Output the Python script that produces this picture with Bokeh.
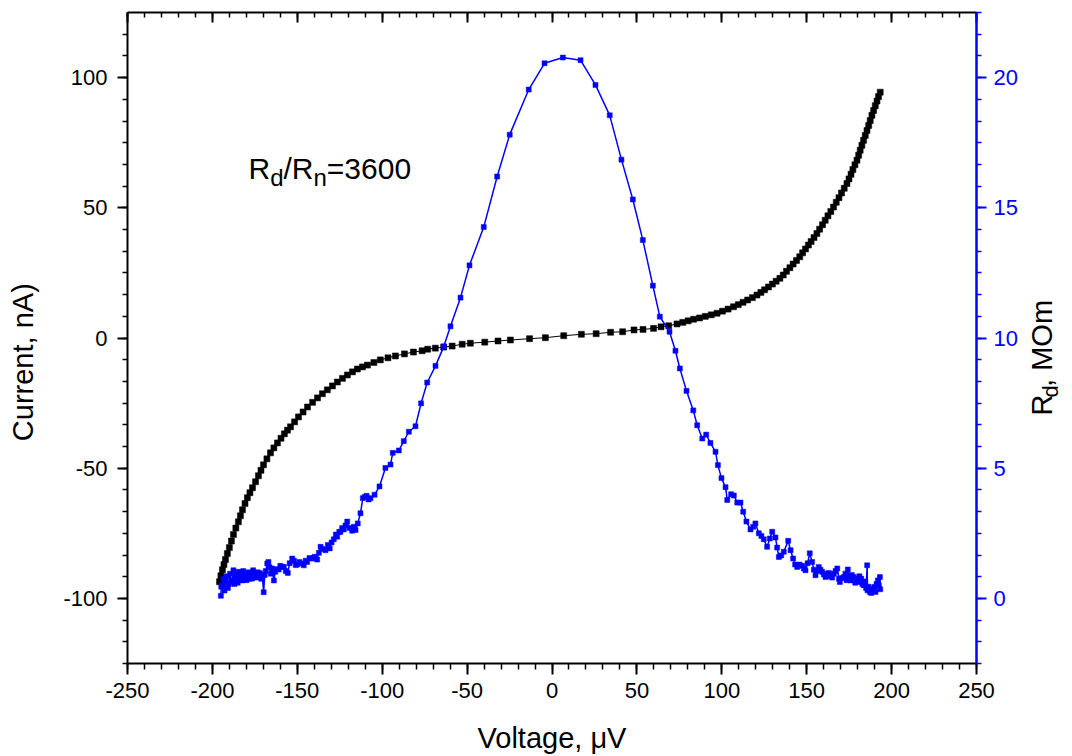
from bokeh.plotting import figure
from bokeh.layouts import row
from bokeh.models import LinearAxis, Range1d, FixedTicker, Label, CustomJSTickFormatter
from bokeh.embed import file_html
from bokeh.resources import INLINE

FONT = "Liberation Sans"
BLUE = "#0000FF"

# ---------------- data ----------------
iv_voltage = [
    -195.8, -195.0, -194.1, -193.2, -192.3, -191.2, -190.0, -188.8, -187.6, -186.2,
    -184.7, -183.5, -182.3, -180.8, -179.4, -177.9, -176.4, -174.6, -172.9, -171.4,
    -169.9, -167.9, -165.8, -163.8, -161.7, -159.6, -157.6, -155.8, -154.0, -151.6,
    -149.3, -146.6, -144.0, -141.0, -138.1, -135.2, -132.3, -129.3, -126.4, -123.4,
    -120.5, -117.5, -114.6, -111.6, -108.7, -104.9, -101.1, -96.6, -92.2, -86.9,
    -81.6, -76.5, -73.2, -68.7, -63.8, -58.8, -52.9, -48.1, -39.6, -31.8,
    -24.5, -13.2, -3.9, 6.9, 17.3, 26.0, 34.5, 41.6, 48.3, 53.6,
    59.8, 64.2, 68.7, 73.6, 77.0, 80.2, 83.4, 86.9, 90.3, 93.8,
    97.2, 100.4, 103.7, 106.9, 109.7, 112.5, 115.2, 118.0, 120.7, 123.0,
    125.2, 127.5, 129.8, 132.0, 134.2, 136.2, 138.1, 140.1, 142.0, 144.0,
    145.9, 147.6, 149.3, 151.0, 152.6, 154.3, 156.0, 157.6, 159.3, 160.9,
    162.5, 164.2, 165.8, 167.4, 169.0, 170.5, 172.1, 173.7, 174.9, 176.1,
    177.2, 178.4, 179.6, 180.6, 181.5, 182.5, 183.5, 184.5, 185.5, 186.5,
    187.4, 188.4, 189.4, 190.4, 191.4, 192.3, 193.3,
]
iv_current = [
    -93.6, -91.3, -89.0, -87.0, -85.1, -82.8, -80.5, -78.0, -75.5, -73.0,
    -70.6, -68.3, -66.0, -63.6, -61.3, -59.4, -57.5, -55.2, -52.9, -50.8,
    -48.7, -46.4, -44.1, -42.2, -40.3, -38.5, -36.8, -35.4, -34.1, -32.2,
    -30.3, -28.4, -26.5, -24.7, -23.0, -21.4, -19.9, -18.4, -16.9, -15.5,
    -14.2, -13.0, -11.9, -11.1, -10.4, -9.4, -8.4, -7.6, -6.9, -6.1,
    -5.4, -4.9, -4.3, -3.9, -3.5, -3.1, -2.4, -2.0, -1.6, -1.15,
    -0.77, -0.27, 0.12, 0.88, 1.42, 1.65, 2.2, 2.4, 3.1, 3.3,
    3.7, 4.3, 4.7, 5.4, 6.0, 6.6, 7.2, 7.7, 8.3, 8.9,
    9.5, 10.3, 11.1, 12.0, 12.8, 13.7, 14.6, 15.5, 16.5, 17.5,
    18.5, 19.6, 20.7, 21.8, 22.9, 24.2, 25.6, 27.0, 28.4, 29.8,
    31.2, 32.7, 34.2, 35.7, 37.1, 38.6, 40.1, 41.8, 43.5, 45.2,
    46.9, 48.6, 50.3, 52.1, 53.9, 55.7, 57.5, 59.3, 61.1, 62.9,
    64.7, 66.5, 68.3, 70.2, 72.1, 74.0, 75.9, 77.8, 79.7, 81.6,
    83.5, 85.5, 87.4, 89.2, 91.0, 92.7, 94.4,
]

rd_voltage = [
    -195.0, -194.8, -194.2, -193.5, -192.9, -192.3, -191.6, -190.9, -190.3, -189.6,
    -189.0, -188.3, -187.6, -187.0, -186.4, -185.7, -185.1, -184.5, -183.8, -183.1,
    -182.5, -181.8, -181.2, -180.5, -179.9, -179.3, -178.6, -178.0, -177.3, -176.6,
    -176.0, -175.3, -174.6, -173.9, -173.3, -172.6, -171.9, -171.2, -170.6, -169.8,
    -169.2, -168.6, -167.7, -167.0, -166.4, -165.6, -164.8, -163.8, -163.0, -162.1,
    -161.0, -160.0, -158.9, -157.9, -156.8, -155.6, -154.5, -153.0, -152.0, -150.9,
    -150.1, -148.8, -147.1, -146.2, -145.1, -144.2, -142.8, -141.2, -139.8, -138.3,
    -137.3, -136.3, -135.0, -133.4, -132.0, -130.9, -129.8, -128.5, -127.3, -126.5,
    -125.3, -124.6, -123.6, -122.6, -121.6, -120.6, -119.2, -117.7, -116.7, -115.7,
    -114.4, -112.8, -111.4, -110.2, -109.2, -108.0, -106.9, -104.5, -101.6, -98.1,
    -95.1, -93.8, -90.2, -87.3, -84.3, -80.4, -77.1, -73.5, -68.6, -63.7,
    -59.8, -53.9, -48.6, -40.2, -32.3, -24.9, -13.7, -4.4, 6.4, 16.8,
    25.6, 34.0, 40.9, 47.6, 53.5, 59.4, 63.5, 69.2, 72.7, 75.3,
    79.2, 83.2, 85.5, 88.5, 90.8, 93.3, 96.3, 97.7, 99.8, 102.2,
    103.2, 105.5, 107.1, 109.1, 111.0, 112.6, 114.5, 116.9, 118.5, 119.8,
    121.8, 123.3, 124.7, 126.7, 128.3, 129.7, 131.6, 132.6, 133.6, 135.0,
    136.5, 139.1, 140.5, 142.0, 143.2, 144.4, 145.8, 147.3, 148.3, 149.3,
    150.5, 151.8, 153.2, 154.2, 155.2, 156.1, 157.1, 158.1, 159.1, 160.1,
    161.1, 162.0, 163.0, 164.0, 165.0, 166.0, 167.0, 168.0, 169.0, 169.5,
    170.8, 171.9, 172.8, 173.5, 174.2, 175.0, 175.8, 176.6, 177.7, 178.6,
    179.4, 180.1, 181.0, 182.1, 182.8, 183.6, 184.4, 185.0, 185.6, 185.8,
    186.5, 187.2, 188.0, 188.7, 189.3, 189.9, 190.5, 191.1, 191.9, 192.5,
    193.1, 193.3,
]
rd_resistance = [
    0.10, 0.45, 0.50, 0.75, 0.30, 0.62, 0.85, 0.40, 0.55, 0.95,
    0.70, 0.63, 1.08, 0.55, 0.80, 0.92, 0.60, 1.02, 0.72, 0.85,
    0.69, 1.05, 0.78, 0.95, 0.70, 0.89, 1.00, 0.75, 0.90, 0.76,
    1.08, 0.85, 0.95, 0.80, 1.00, 0.88, 0.97, 0.75, 0.82, 0.24,
    0.90, 1.05, 1.34, 1.40, 1.20, 0.95, 1.15, 0.69, 1.02, 1.12,
    1.11, 1.25, 1.21, 1.21, 1.05, 0.98, 1.35, 1.53, 1.45, 1.28,
    1.30, 1.40, 1.34, 1.27, 1.45, 1.40, 1.55, 1.53, 1.60, 1.49,
    1.75, 1.98, 1.90, 1.85, 2.05, 1.92, 2.15, 2.27, 2.45, 2.37,
    2.55, 2.56, 2.70, 2.65, 2.80, 2.95, 2.70, 2.60, 2.75, 2.63,
    2.88, 3.27, 3.85, 3.90, 3.94, 3.80, 3.85, 3.98, 4.30, 5.01,
    5.14, 5.59, 5.68, 6.04, 6.40, 6.61, 7.49, 8.29, 8.93, 9.68,
    10.45, 11.55, 12.79, 14.26, 16.20, 17.81, 19.54, 20.55, 20.77, 20.67,
    19.72, 18.55, 16.85, 15.32, 13.76, 12.01, 10.82, 10.24, 9.51, 8.83,
    7.97, 7.22, 6.65, 6.14, 6.29, 5.97, 5.63, 5.12, 4.62, 4.27,
    3.78, 4.00, 3.95, 3.68, 3.68, 3.33, 2.95, 2.65, 2.75, 2.88,
    2.50, 2.40, 2.27, 1.98, 2.30, 2.56, 2.34, 1.95, 1.59, 1.65,
    1.79, 2.21, 1.85, 1.53, 1.30, 1.21, 1.30, 1.25, 1.15, 1.08,
    1.35, 1.73, 1.40, 1.10, 0.89, 1.05, 1.21, 1.10, 1.02, 0.92,
    0.82, 0.95, 0.98, 0.85, 0.80, 0.95, 1.05, 1.15, 0.75, 0.63,
    0.78, 0.82, 0.95, 0.70, 1.11, 0.85, 0.69, 0.90, 0.82, 0.60,
    0.75, 0.63, 0.85, 0.76, 0.55, 0.50, 0.65, 0.40, 1.27, 0.31,
    0.45, 0.25, 0.21, 0.35, 0.30, 0.44, 0.25, 0.55, 0.69, 0.50,
    0.82, 0.35,
]

x_ticks = [-250, -200, -150, -100, -50, 0, 50, 100, 150, 200, 250]
current_ticks = [-100, -50, 0, 50, 100]
rd_ticks = [0, 5, 10, 15, 20]

x_minor = [-250 + 10 * k for k in range(51)]
current_minor = [-125 + 50 / 6 * k for k in range(31)]
rd_minor = [-2.5 + 5 / 6 * k for k in range(31)]

# ---------------- main figure ----------------
p = figure(
    width=1026, height=756,
    min_border_left=127, min_border_right=50, min_border_top=12, min_border_bottom=92,
    x_range=Range1d(-250, 250), y_range=Range1d(-125, 125),
    output_backend="svg", toolbar_location=None,
)
p.extra_y_ranges = {"rd": Range1d(-2.5, 22.5)}
p.xgrid.visible = False
p.ygrid.visible = False
p.outline_line_color = None
p.background_fill_color = "white"
p.border_fill_color = "white"


def style_axis(ax, color, tick_out, minor_out, tick_in=0, minor_in=0):
    ax.axis_line_color = color
    ax.axis_line_width = 2
    ax.major_tick_line_color = color
    ax.minor_tick_line_color = color
    ax.major_tick_line_width = 2
    ax.minor_tick_line_width = 1.5
    ax.major_tick_out = tick_out
    ax.major_tick_in = tick_in
    ax.minor_tick_out = minor_out
    ax.minor_tick_in = minor_in
    ax.major_label_text_font = FONT
    ax.major_label_text_font_size = "22px"
    ax.major_label_text_color = color
    ax.major_label_text_line_height = 1.0
    ax.axis_label_text_font = FONT
    ax.axis_label_text_font_size = "29px"
    ax.axis_label_text_font_style = "normal"
    ax.axis_label_text_color = "black"
    ax.axis_label_text_line_height = 1.0


xa = p.xaxis[0]
xa.ticker = FixedTicker(ticks=x_ticks, minor_ticks=x_minor)
xa.major_label_overrides = {t: str(t) for t in x_ticks}
style_axis(xa, "black", 11, 6)
xa.major_label_standoff = 8
xa.axis_label = "Voltage, \u03bcV"
xa.axis_label_standoff = 21

ya = p.yaxis[0]
ya.ticker = FixedTicker(ticks=current_ticks, minor_ticks=current_minor)
ya.major_label_overrides = {t: str(t) for t in current_ticks}
style_axis(ya, "black", 10, 5)
ya.major_label_standoff = 10
# trailing no-break spaces shift the (centred) title towards the bottom, as in the reference
ya.axis_label = "Current, nA)" + "\u00a0" * 6
ya.axis_label_standoff = 21

ta = LinearAxis(ticker=FixedTicker(ticks=x_ticks, minor_ticks=x_minor),
                formatter=CustomJSTickFormatter(code="return ''"))
style_axis(ta, "black", 0, 0, tick_in=10, minor_in=5)
ta.major_label_text_font_size = "1px"
ta.major_label_standoff = 0
p.add_layout(ta, "above")

ra = LinearAxis(y_range_name="rd", ticker=FixedTicker(ticks=rd_ticks, minor_ticks=rd_minor))
ra.major_label_overrides = {t: str(t) for t in rd_ticks}
style_axis(ra, BLUE, 10, 5)
ra.axis_line_width = 2.5
ra.major_label_standoff = 7
p.add_layout(ra, "right")

# ---------------- data glyphs ----------------
p.line(iv_voltage, iv_current, line_color="black", line_width=1)
p.scatter(iv_voltage, iv_current, marker="square", size=6, fill_color="black",
          line_color="black", line_width=0.5)

p.line(rd_voltage, rd_resistance, y_range_name="rd", line_color=BLUE, line_width=1.5)
p.scatter(rd_voltage, rd_resistance, y_range_name="rd", marker="square", size=5,
          fill_color=BLUE, line_color=BLUE, line_width=0.5)


def piece(fig, text, x, y, size, units, angle=0.0):
    fig.add_layout(Label(x=x, y=y, x_units=units, y_units=units, text=text,
                         text_font=FONT, text_font_size=f"{size}px", text_color="black",
                         text_align="left", text_baseline="alphabetic",
                         angle=angle, angle_units="deg"))


# "R_d/R_n=3600" inside the plot (screen units relative to the frame)
F, S = 30, 24
x0, y0 = 121, 495
piece(p, "R", x0, y0, F, "screen")
x = x0 + 0.722 * F
piece(p, "d", x, y0 - 9, S, "screen")
x += 0.556 * S
piece(p, "/R", x, y0, F, "screen")
x += (0.278 + 0.722) * F
piece(p, "n", x, y0 - 9, S, "screen")
x += 0.556 * S
piece(p, "=3600", x, y0, F, "screen")

# ---------------- strip on the right holding the right-axis title ----------------
q = figure(width=46, height=756, x_range=Range1d(0, 46), y_range=Range1d(0, 756),
           x_axis_location=None, y_axis_location=None, min_border=0,
           output_backend="svg", toolbar_location=None)
q.grid.visible = False
q.outline_line_color = None
q.background_fill_color = "white"
q.border_fill_color = "white"

F2, S2 = 29, 22
bx, by = 15, 288
piece(q, "R", bx, by, F2, "data", angle=90)
yy = by + 0.722 * F2
piece(q, "d", bx + 9, yy, S2, "data", angle=90)
yy += 0.556 * S2
piece(q, ", MOm", bx, yy, F2, "data", angle=90)

layout = row(p, q)
open("out.html", "w").write(file_html(layout, INLINE))
